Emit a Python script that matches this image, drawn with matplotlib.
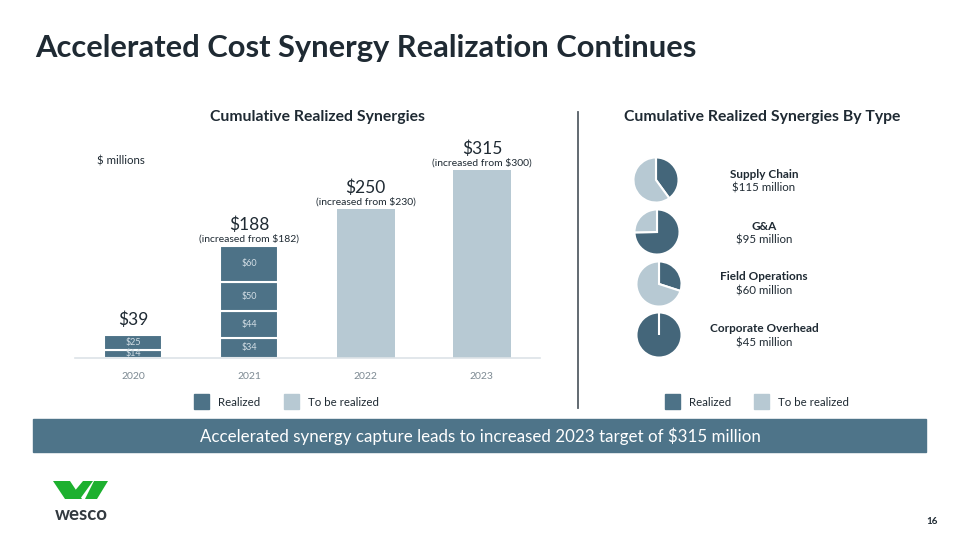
import matplotlib
matplotlib.use("Agg")
import matplotlib.pyplot as plt
from matplotlib.patches import Rectangle, Polygon

plt.rcParams["font.family"] = ["Lato", "DejaVu Sans"]

# ---------------------------------------------------------------- data
years = ["2020", "2021", "2022", "2023"]
realized_2020 = [14, 25]
realized_2021 = [34, 44, 50, 60]
to_be_realized = [0, 0, 250, 315]
totals = ["$39", "$188", "$250", "$315"]
prior_targets = [None, "(increased from $182)", "(increased from $230)", "(increased from $300)"]

types = ["Supply Chain", "G&A", "Field Operations", "Corporate Overhead"]
type_totals = [115, 95, 60, 45]
type_realized = [46, 71, 18, 45]

DARK = "#4D7287"
PIE_DARK = "#44667A"
LIGHT = "#B7C9D3"
TXT = "#1F2A33"
GRAY = "#7D8A93"

W, H = 960, 540
fig = plt.figure(figsize=(9.6, 5.4), dpi=100)


def fx(x):
    return x / W


def fy(y):
    return 1 - y / H


# ---------------------------------------------------------------- header
fig.text(fx(35), fy(48), "Accelerated Cost Synergy Realization Continues", fontsize=22.2,
         fontweight="bold", color=TXT, va="center", ha="left")
fig.text(fx(318), fy(117), "Cumulative Realized Synergies", fontsize=11.3, fontweight="bold",
         color=TXT, ha="center", va="center")
fig.text(fx(762), fy(117), "Cumulative Realized Synergies By Type", fontsize=11.3,
         fontweight="bold", color=TXT, ha="center", va="center")
fig.text(fx(97), fy(161), "$ millions", fontsize=8.3, color=TXT, ha="left", va="center")

# ---------------------------------------------------------------- bars
ax = fig.add_axes([fx(75), fy(358), fx(465), (358 - 130) / H])
xs = range(len(years))
bw = 0.5
seg_sets = [realized_2020, realized_2021, [], []]
for i, segs in enumerate(seg_sets):
    bottom = 0
    for v in segs:
        ax.bar(i, v, bw, bottom=bottom, color=DARK, edgecolor="white", linewidth=1.5)
        ax.text(i, bottom + v / 2, f"${v}", ha="center", va="center", fontsize=6.5,
                color="#D3DEE5")
        bottom += v
    if to_be_realized[i]:
        ax.bar(i, to_be_realized[i], bw, color=LIGHT, edgecolor="none")
        bottom = to_be_realized[i]
    if prior_targets[i]:
        ax.text(i, bottom + 12, prior_targets[i], ha="center", va="center", fontsize=7.5,
                color=TXT)
        ax.text(i, bottom + 35, totals[i], ha="center", va="center", fontsize=12.5, color=TXT)
    else:
        ax.text(i, bottom + 25, totals[i], ha="center", va="center", fontsize=12.5, color=TXT)

ax.set_xlim(-0.5, 3.5)
ax.set_ylim(0, 228 / 0.597)
ax.set_xticks(list(xs))
ax.set_xticklabels(years, fontsize=7.5, color=GRAY)
ax.tick_params(axis="x", length=0, pad=10)
ax.set_yticks([])
for s in ["top", "right", "left"]:
    ax.spines[s].set_visible(False)
ax.spines["bottom"].set_color("#DDE3E7")
ax.spines["bottom"].set_linewidth(1.2)

# ---------------------------------------------------------------- divider
fig.add_artist(plt.Line2D([fx(578), fx(578)], [fy(112), fy(408)], color="#555E66", lw=1.3))

# ---------------------------------------------------------------- pies
centers = [(656, 180), (657, 232), (659, 284), (659, 335)]
label_y = [174, 226, 277, 329]
r = 23
for (cx, cy), ly, name, tot, real in zip(centers, label_y, types, type_totals, type_realized):
    pax = fig.add_axes([fx(cx - r), fy(cy + r), 2 * r / W, 2 * r / H])
    pax.pie([real, tot - real], colors=[PIE_DARK, LIGHT], startangle=90, counterclock=False,
            radius=1.0, wedgeprops=dict(edgecolor="white", linewidth=1.5))
    pax.set_xlim(-1.02, 1.02)
    pax.set_ylim(-1.02, 1.02)
    pax.set_aspect("equal")
    fig.text(fx(764), fy(ly), name, fontsize=8.5, fontweight="bold", color=TXT,
             ha="center", va="center")
    fig.text(fx(764), fy(ly + 14), f"${tot} million", fontsize=8.3, color=TXT,
             ha="center", va="center")

# ---------------------------------------------------------------- legends
for x0, gap in [(194, 90), (665, 89)]:
    for j, (col, lab) in enumerate([(DARK, "Realized"), (LIGHT, "To be realized")]):
        xx = x0 + j * gap
        fig.add_artist(Rectangle((fx(xx), fy(409)), 15 / W, 15 / H, color=col))
        fig.text(fx(xx + 24), fy(402), lab, fontsize=8.3, color=TXT, ha="left", va="center")

# ---------------------------------------------------------------- banner
fig.add_artist(Rectangle((fx(33), fy(452)), (926 - 33) / W, 33 / H, color="#4E7489"))
fig.text(fx(480), fy(436), "Accelerated synergy capture leads to increased 2023 target of $315 million",
         fontsize=12.2, color="white", ha="center", va="center")

# ---------------------------------------------------------------- logo + page
GREEN = "#1DB02F"
logo = [
    [(53, 481), (70, 481), (82, 499), (65, 499)],
    [(68, 499), (83, 481), (93, 481), (80, 499)],
    [(85, 499), (94, 481), (108, 481), (97, 499)],
]
for poly in logo:
    fig.add_artist(Polygon([(fx(x), fy(y)) for x, y in poly], closed=True, color=GREEN, lw=0))
fig.text(fx(81), fy(514), "wesco", fontsize=13.5, fontweight="bold", color="#333A40",
         ha="center", va="center")
fig.text(fx(932), fy(521), "16", fontsize=7, fontweight="bold", color=TXT, ha="center",
         va="center")

fig.savefig("out.png", dpi=100)
